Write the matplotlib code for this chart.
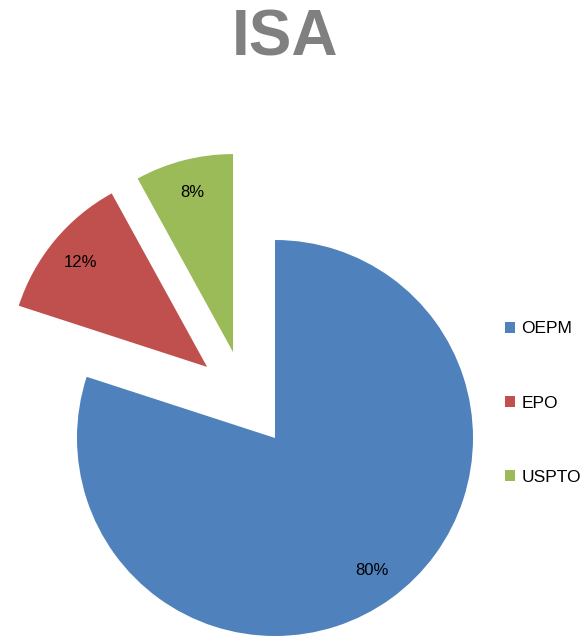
import matplotlib.pyplot as plt

# Data
labels = ["OEPM", "EPO", "USPTO"]
shares = [80, 12, 8]
colors = ["#4F81BD", "#C0504D", "#9BBB59"]
# slice offsets (in radius units) as drawn in the original
offsets = [(0.0, 0.0), (-0.343, 0.359), (-0.212, 0.434)]

plt.rcParams['font.family'] = ['Liberation Sans', 'DejaVu Sans']

fig = plt.figure(figsize=(5.84, 6.37), dpi=100)
ax = fig.add_axes([0, 0, 1, 1])

wedges, texts, autotexts = ax.pie(shares, colors=colors, startangle=90, counterclock=False,
                                  autopct='%1.0f%%', pctdistance=0.83, radius=1.0,
                                  textprops={'fontsize': 12, 'color': 'black'})

# move exploded slices and their labels
for w, t, (dx, dy) in zip(wedges, autotexts, offsets):
    w.set_center((dx, dy))
    x, y = t.get_position()
    t.set_position((x + dx, y + dy))

ax.set_xlim(-275 / 198, (584 - 275) / 198)
ax.set_ylim((438 - 637) / 198, 438 / 198)
ax.set_aspect('auto')
ax.axis('off')

fig.text(285 / 584, 1 - 38 / 637, "ISA", ha='center', va='center',
         fontsize=46, fontweight='bold', color='#808080')

ax.legend(wedges, labels, loc='center left', bbox_to_anchor=(505 / 584, 1 - 403 / 637),
          bbox_transform=fig.transFigure, frameon=False, fontsize=12.5,
          labelspacing=3.4, handlelength=0.6, handleheight=0.6, handletextpad=0.35,
          borderpad=0, borderaxespad=0)

fig.savefig("out.png", dpi=100)
